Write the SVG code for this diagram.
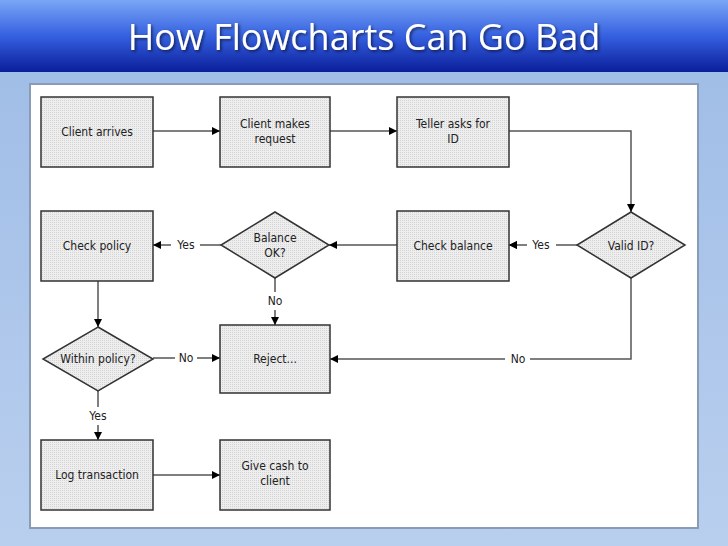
<svg xmlns="http://www.w3.org/2000/svg" width="728" height="546" viewBox="0 0 728 546">
<defs>
<linearGradient id="bg" x1="0" y1="0" x2="0" y2="1"><stop offset="0" stop-color="#9dbbe6"/><stop offset="1" stop-color="#b9cfee"/></linearGradient>
<linearGradient id="hd" x1="0" y1="0" x2="0" y2="1"><stop offset="0" stop-color="#7aa6f6"/><stop offset="0.5" stop-color="#3560e0"/><stop offset="1" stop-color="#0a1e9a"/></linearGradient>
<pattern id="dots" width="2" height="2" patternUnits="userSpaceOnUse"><rect width="2" height="2" fill="#eeeeee"/><rect width="1" height="1" fill="#d4d4d4"/></pattern>
<marker id="ar" viewBox="0 0 10 10" refX="10" refY="5" markerWidth="8" markerHeight="8" orient="auto" markerUnits="userSpaceOnUse"><path d="M0,0 L10,5 L0,10 z" fill="#000"/></marker>
<filter id="sh"><feDropShadow dx="1.5" dy="1.5" stdDeviation="1.5" flood-color="#000" flood-opacity="0.6"/></filter>
</defs>
<style>
.n{fill:url(#dots);stroke:#333;stroke-width:1.5}
.t{font-family:"DejaVu Sans Condensed","DejaVu Sans",sans-serif;font-size:12px;fill:#222;text-anchor:middle}
.c{fill:none;stroke:#555;stroke-width:1.5;marker-end:url(#ar)}
.l{stroke:#555;stroke-width:1.5;fill:none}
.lb{font-family:"DejaVu Sans Condensed","DejaVu Sans",sans-serif;font-size:12px;fill:#222;text-anchor:middle}
</style>
<rect width="728" height="546" fill="url(#bg)"/>
<rect width="728" height="72" fill="url(#hd)"/>
<text x="364" y="50" font-family="'Open Sans','Noto Sans',sans-serif" font-size="36" fill="#fff" text-anchor="middle" filter="url(#sh)">How Flowcharts Can Go Bad</text>
<rect x="30" y="84" width="668" height="444" fill="#fff" stroke="#8a9bb5" stroke-width="2"/>
<g id="connectors">
<path class="c" d="M153,131 H220"/>
<path class="c" d="M330,131 H397"/>
<path class="c" d="M509,131 H631 V212"/>
<path class="l" d="M577,245 H556"/><path class="c" d="M527,245 H509"/>
<path class="c" d="M577,245 H509" stroke-opacity="0"/>
<path class="c" d="M397,245 H329"/>
<path class="l" d="M221,245 H200"/><path class="c" d="M171,245 H153"/>
<path class="l" d="M275,278 V292"/><path class="c" d="M275,310 V325"/>
<path class="c" d="M98,281 V327"/>
<path class="l" d="M153,358 H175"/><path class="c" d="M197,358 H220"/>
<path class="l" d="M631,278 V359 H530"/><path class="c" d="M505,359 H330"/>
<path class="l" d="M98,391 V407"/><path class="c" d="M98,425 V440"/>
<path class="c" d="M153,475 H220"/>
<text class="lb" x="541" y="249">Yes</text>
<text class="lb" x="186" y="249">Yes</text>
<text class="lb" x="275" y="305">No</text>
<text class="lb" x="186" y="362">No</text>
<text class="lb" x="518" y="363">No</text>
<text class="lb" x="98" y="420">Yes</text>
</g>
<g id="n1"><rect class="n" x="41" y="97" width="112" height="70"/><text class="t" x="97" y="136">Client arrives</text></g>
<g id="n2"><rect class="n" x="220" y="97" width="110" height="70"/><text class="t" x="275" y="128">Client makes</text><text class="t" x="275" y="143">request</text></g>
<g id="n3"><rect class="n" x="397" y="97" width="112" height="70"/><text class="t" x="453" y="128">Teller asks for</text><text class="t" x="453" y="143">ID</text></g>
<g id="n4"><rect class="n" x="41" y="211" width="112" height="70"/><text class="t" x="97" y="250">Check policy</text></g>
<g id="n5"><polygon class="n" points="275,212 329,245 275,278 221,245"/><text class="t" x="275" y="242">Balance</text><text class="t" x="275" y="257">OK?</text></g>
<g id="n6"><rect class="n" x="397" y="211" width="112" height="70"/><text class="t" x="453" y="250">Check balance</text></g>
<g id="n7"><polygon class="n" points="631,212 685,245 631,278 577,245"/><text class="t" x="631" y="250">Valid ID?</text></g>
<g id="n8"><polygon class="n" points="98,327 153,359 98,391 43,359"/><text class="t" x="98" y="363">Within policy?</text></g>
<g id="n9"><rect class="n" x="220" y="325" width="110" height="68"/><text class="t" x="275" y="363">Reject...</text></g>
<g id="n10"><rect class="n" x="41" y="440" width="112" height="70"/><text class="t" x="97" y="479">Log transaction</text></g>
<g id="n11"><rect class="n" x="220" y="440" width="110" height="70"/><text class="t" x="275" y="470">Give cash to</text><text class="t" x="275" y="485">client</text></g>
</svg>
